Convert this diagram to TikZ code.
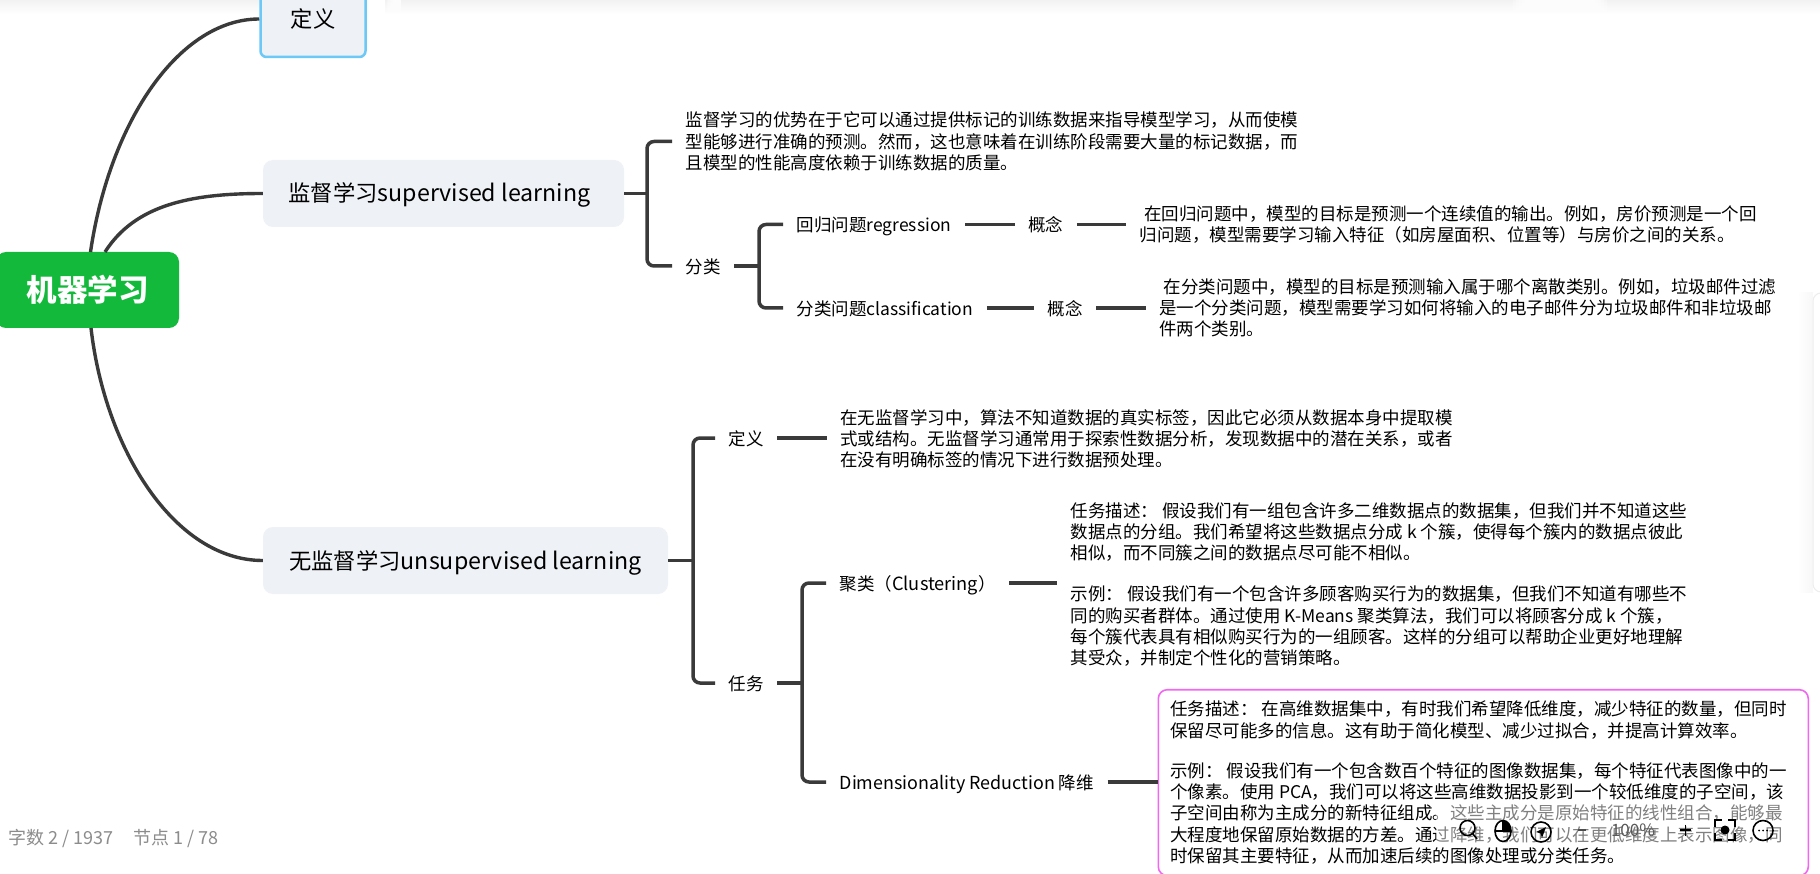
\documentclass[tikz,border=0pt]{standalone}
\usepackage{fontspec}
\setmainfont{Noto Sans CJK SC}
\usetikzlibrary{calc}
\definecolor{linec}{HTML}{3A3A3A}
\definecolor{boxbg}{HTML}{EEF1F5}
\definecolor{rootg}{HTML}{12B93A}
\definecolor{skyb}{HTML}{6CC8F7}
\definecolor{pinkb}{HTML}{F266F2}
\definecolor{grayt}{HTML}{8C8C8C}
\newcommand{\biglat}[1]{{\fontsize{23.2}{26}\selectfont #1}}
\newcommand{\smlat}[1]{{\fontsize{18.2}{21.3}\selectfont #1}}
\tikzset{
  x=1pt,y=-1pt,
  topic/.style={fill=boxbg,rounded corners=10pt,inner sep=0pt,font=\fontsize{22.3}{26}\selectfont,text height=22pt,text depth=5pt},
  leaf/.style={anchor=west,inner xsep=13.5pt,inner ysep=0pt,font=\fontsize{17.5}{21.3}\selectfont,text height=19pt,text depth=4pt},
  para/.style={anchor=west,inner xsep=13.5pt,inner ysep=0pt,align=left,font=\fontsize{17.5}{21.3}\selectfont},
  link/.style={draw=linec,line width=3.5pt},
  fork/.style={draw=linec,line width=3.5pt,rounded corners=7pt},
  curve/.style={draw=linec,line width=3.4pt},
  tool/.style={draw=black,line width=1.6pt}
}
\begin{document}
\begin{tikzpicture}
\useasboundingbox (0,0) rectangle (1820,874);
\fill[white] (0,0) rectangle (1820,874);
% window shadow
\shade[top color=black!5,bottom color=white] (0,0) rectangle (1820,14);
% soft gaps in the shadow
\fill[white] (366,0) rectangle (385,14.5);
\foreach \i in {1,...,10}{
  \fill[white,opacity=.3] (385+1.6*\i,0) rectangle (385+16,14.5);
  \fill[white,opacity=.3] (1510+3*\i,0) rectangle (1610-3*\i,14.5);
}
% side panel edge
\shade[left color=white,right color=black!3] (1798,293) rectangle (1813,592);
\fill[white] (1813,293) rectangle (1820,592);
\draw[black!7,line width=1pt,rounded corners=8pt] (1822,293) -- (1813,293) -- (1813,592) -- (1822,592);

% nodes
\node[fill=rootg,rounded corners=10pt,inner sep=0pt,minimum width=183pt,minimum height=76pt,text=white,font=\fontsize{30.5}{32}\selectfont\bfseries] (root) at (87.5,290) {\raisebox{-3pt}{机器学习}};
\node[topic,draw=skyb,line width=2.5pt,rounded corners=6pt,minimum width=105pt,minimum height=76pt] (def) at (313,19) {定义};
\node[topic,minimum width=361pt,minimum height=67pt] (sup) at (443.5,193.5) {监督学习\biglat{supervised learning}\hspace*{8pt}};
\node[topic,minimum width=405pt,minimum height=67pt] (uns) at (465.5,560.5) {无监督学习\biglat{unsupervised learning}};

% supervised
\node[para] (adv) at (672,141.5) {监督学习的优势在于它可以通过提供标记的训练数据来指导模型学习，从而使模\\型能够进行准确的预测。然而，这也意味着在训练阶段需要大量的标记数据，而\\且模型的性能高度依赖于训练数据的质量。};
\node[leaf] (cls) at (672,266) {分类};
\node[leaf] (reg) at (783,224.5) {回归问题regression};
\node[leaf] (regc) at (1014.5,224.5) {概念};
\node[para] (regt) at (1126,224.5) {\hspace*{4.5pt}在回归问题中，模型的目标是预测一个连续值的输出。例如，房价预测是一个回\\归问题，模型需要学习输入特征（如房屋面积、位置等）与房价之间的关系。};
\node[leaf] (cla) at (783,308) {分类问题classification};
\node[leaf] (clac) at (1034,308) {概念};
\node[para] (clat) at (1145.5,308) {\hspace*{4.5pt}在分类问题中，模型的目标是预测输入属于哪个离散类别。例如，垃圾邮件过滤\\是一个分类问题，模型需要学习如何将输入的电子邮件分为垃圾邮件和非垃圾邮\\件两个类别。};

% unsupervised
\node[leaf] (udef) at (715,438) {定义};
\node[para] (udeft) at (826.5,439) {在无监督学习中，算法不知道数据的真实标签，因此它必须从数据本身中提取模\\式或结构。无监督学习通常用于探索性数据分析，发现数据中的潜在关系，或者\\在没有明确标签的情况下进行数据预处理。};
\node[leaf] (task) at (715,683) {任务};
\node[leaf] (clu) at (826,583) {聚类（\smlat{Clustering}）};
\node[para] (clut) at (1057,584.5) {任务描述： 假设我们有一组包含许多二维数据点的数据集，但我们并不知道这些\\数据点的分组。我们希望将这些数据点分成 k 个簇，使得每个簇内的数据点彼此\\相似，而不同簇之间的数据点尽可能不相似。\\[20pt]示例： 假设我们有一个包含许多顾客购买行为的数据集，但我们不知道有哪些不\\同的购买者群体。通过使用 K-Means 聚类算法，我们可以将顾客分成 k 个簇，\\每个簇代表具有相似购买行为的一组顾客。这样的分组可以帮助企业更好地理解\\其受众，并制定个性化的营销策略。};
\node[leaf] (dim) at (826,782) {{\fontsize{17.9}{21.3}\selectfont Dimensionality Reduction} 降维};
\node[para,draw=pinkb,line width=1.6pt,rounded corners=9pt,inner xsep=8pt,minimum width=650pt,minimum height=186pt] (dimt) at (1157.5,782.7) {任务描述： 在高维数据集中，有时我们希望降低维度，减少特征的数量，但同时\hspace*{10pt}\\保留尽可能多的信息。这有助于简化模型、减少过拟合，并提高计算效率。\\[19pt]示例： 假设我们有一个包含数百个特征的图像数据集，每个特征代表图像中的一\\个像素。使用 PCA，我们可以将这些高维数据投影到一个较低维度的子空间，该\\子空间由称为主成分的新特征组成。这些主成分是原始特征的线性组合，能够最\\大程度地保留原始数据的方差。通过降维，我们可以在更低维度上表示图像，同\\时保留其主要特征，从而加速后续的图像处理或分类任务。};

\coordinate (b1) at (647,193);
\coordinate (b2) at (759,266);
\coordinate (b3) at (693,561);
\coordinate (b4) at (802,683);

% curved connectors
\draw[curve] (90.5,252) .. controls (110,120) and (180,19) .. (def.west);
\draw[curve] (105,252) .. controls (135,205) and (190,193.5) .. (sup.west);
\draw[curve] (91,328) .. controls (105,450) and (175,560.5) .. (uns.west);

% forks
\draw[link] (sup.east) -- (sup.east -| b1);
\draw[fork] (adv.west) -- (adv.west -| b1) -- (cls.west -| b1) -- (cls.west);
\draw[link] (cls.east) -- (cls.east -| b2);
\draw[fork] (reg.west) -- (reg.west -| b2) -- (cla.west -| b2) -- (cla.west);
\draw[link] (reg.east) -- (regc.west);
\draw[link] (regc.east) -- (regt.west);
\draw[link] (cla.east) -- (clac.west);
\draw[link] (clac.east) -- (clat.west);
\draw[link] (uns.east) -- (uns.east -| b3);
\draw[fork] (udef.west) -- (udef.west -| b3) -- (task.west -| b3) -- (task.west);
\draw[link] (udef.east) -- (udeft.west |- udef.east);
\draw[link] (task.east) -- (task.east -| b4);
\draw[fork] (clu.west) -- (clu.west -| b4) -- (dim.west -| b4) -- (dim.west);
\draw[link] (clu.east) -- (clut.west |- clu.east);
\draw[link] (dim.east) -- (dimt.west |- dim.east);

% status text
\node[anchor=west,inner sep=0pt,text=grayt,font=\fontsize{18}{20}\selectfont] (stat) at (8.5,838) {字数 2 / 1937\hspace{20pt}节点 1 / 78};

% toolbar veil
\fill[white,opacity=.5] (1436,803) rectangle (1795,847);
\node[inner sep=0pt,font=\fontsize{17}{19}\selectfont,text=black!65] (zoomv) at (1633,830) {100\%};
\draw[tool] (1467.5,828) circle (7.5pt) (1473,834) -- (1477,839);
\draw[tool] (1503,831) ellipse (8pt and 10.5pt) (1495,831) -- (1511,831) (1503,820.5) -- (1503,831);
\fill[black] (1503,831) -- (1511,831) arc (0:90:8pt and 10.5pt) -- cycle;
\draw[tool] (1541,832) circle (10pt);
\fill[black] (1546,827) -- (1542,838) -- (1540.5,833.5) -- (1536,832) -- cycle;
\draw[draw=black!70,line width=1.4pt] (1578,830) -- (1586,830);
\draw[tool] (1680,830) -- (1691,830) (1685.5,824.5) -- (1685.5,835.5);
\draw[tool] (1715,827) -- (1715,820) -- (1722,820) (1728,820) -- (1735,820) -- (1735,827) (1735,833) -- (1735,840) -- (1728,840) (1722,840) -- (1715,840) -- (1715,833);
\fill[black] (1725,830) circle (4.5pt);
\draw[tool] (1763,830.5) circle (10pt);
\fill[black] (1759,830.5) circle (1pt) (1763,830.5) circle (1pt) (1767,830.5) circle (1pt);
\end{tikzpicture}
\end{document}
